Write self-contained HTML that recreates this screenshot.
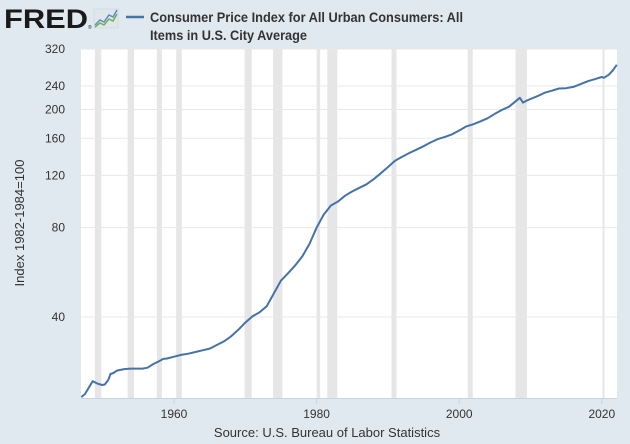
<!DOCTYPE html>
<html><head><meta charset="utf-8"><style>
body{margin:0;background:#e1e9f0;width:630px;height:444px;overflow:hidden;font-family:"Liberation Sans",sans-serif}
</style></head><body>
<svg id="s" width="630" height="444" xmlns="http://www.w3.org/2000/svg" style="position:absolute;left:0;top:0">
<rect width="630" height="444" fill="#e1e9f0"/>
<text x="4" y="28" font-size="27" font-weight="bold" fill="#1a1a1a" textLength="84" lengthAdjust="spacingAndGlyphs">FRED</text>
<text x="88" y="29" font-size="5" fill="#1a1a1a">®</text>
<rect x="94" y="9" width="24" height="19" fill="#dfe6ec" stroke="#c8d0d8" stroke-width="0.5"/>
<polyline points="95,25 100,20 104,22 109,15 113,17 117,10" fill="none" stroke="#5a8fc6" stroke-width="1.5"/>
<polyline points="95,27 100,23 104,25 109,19 113,21 117,14" fill="none" stroke="#72b04a" stroke-width="1.5"/>
<line x1="126" y1="17" x2="144" y2="17" stroke="#4572a7" stroke-width="2.5"/>
<text x="150" y="22" font-size="14" font-weight="bold" fill="#333" textLength="313" lengthAdjust="spacingAndGlyphs">Consumer Price Index for All Urban Consumers: All</text>
<text x="150" y="40" font-size="14" font-weight="bold" fill="#333" textLength="157" lengthAdjust="spacingAndGlyphs">Items in U.S. City Average</text>
<rect x="81" y="49" width="536" height="349" fill="#fff"/>
<g id="rec" fill="#e6e6e6"></g>
<g id="grid" stroke="#e8e8e8" stroke-width="1"></g>
<g id="yl" font-size="12" fill="#333" text-anchor="end"></g>
<line x1="81" y1="398.5" x2="617" y2="398.5" stroke="#c8d4e3"/>
<g id="xl" font-size="12" fill="#333" text-anchor="middle"></g>
<path id="p" fill="none" stroke="#4572a7" stroke-width="2" stroke-linejoin="round"/>
<text transform="translate(24,223) rotate(-90)" font-size="13" fill="#333" text-anchor="middle">Index 1982-1984=100</text>
<text x="327" y="437" font-size="13" fill="#333" text-anchor="middle">Source: U.S. Bureau of Labor Statistics</text>
</svg>
<script>
var X=function(t){return 174+(t-1960)*7.13};
var Y=function(v){return 317-Math.log(v/40)*128.9};
var ns="http://www.w3.org/2000/svg";
function el(g,tag,a,txt){var e=document.createElementNS(ns,tag);for(var k in a)e.setAttribute(k,a[k]);if(txt)e.textContent=txt;document.getElementById(g).appendChild(e);}
[[1948.9,1949.8],[1953.5,1954.4],[1957.6,1958.3],[1960.3,1961.1],[1969.9,1970.9],[1973.9,1975.2],[1980.0,1980.5],[1981.5,1982.9],[1990.5,1991.2],[2001.2,2001.9],[2007.9,2009.5],[2020.1,2020.3]].forEach(function(r){el("rec","rect",{x:X(r[0]),y:49,width:Math.max(X(r[1])-X(r[0]),2),height:349});});
[40,80,120,160,200,240,320].forEach(function(v){var y=Y(v);el("grid","line",{x1:81,x2:617,y1:y,y2:y});el("yl","text",{x:65,y:y+4},String(v));});
[1960,1980,2000,2020].forEach(function(t){var x=X(t);el("xl","line",{x1:x,x2:x,y1:398,y2:404,stroke:"#c8d4e3"});el("xl","text",{x:x,y:418},String(t));});
var d=[[1947.0,21.5],[1947.5,22.0],[1948.0,23.0],[1948.6,24.3],[1949.2,23.9],[1949.9,23.6],[1950.3,23.7],[1950.8,24.6],[1951.1,25.7],[1951.5,25.9],[1952,26.4],[1953,26.7],[1954,26.8],[1955,26.8],[1955.6,26.8],[1956.3,27.0],[1957,27.7],[1957.8,28.3],[1958.5,28.9],[1959,29.0],[1960,29.4],[1961,29.8],[1962,30.1],[1963,30.5],[1964,30.9],[1965,31.3],[1966,32.2],[1967,33.1],[1968,34.4],[1969,36.2],[1970,38.3],[1971,40.2],[1972,41.5],[1973,43.5],[1974,48.0],[1975,53.0],[1976,56.2],[1977,59.7],[1978,64.0],[1979,70.5],[1980,80.0],[1981,88.5],[1982,95.0],[1983,98.0],[1984,102.5],[1985,106.0],[1986,109.0],[1987,112.0],[1988,116.5],[1989,122.0],[1990,128.0],[1991,134.5],[1992,138.7],[1993,142.8],[1994,146.5],[1995,150.5],[1996,155.0],[1997,159.0],[1998,161.8],[1999,165.0],[2000,170.0],[2001,175.5],[2002,178.5],[2003,182.5],[2004,187.0],[2005,193.5],[2006,199.5],[2007,204.5],[2008.5,219.0],[2008.95,211.0],[2009.5,214.5],[2010,217.0],[2011,222.0],[2012,228.0],[2013,231.5],[2014,235.5],[2015,236.0],[2016,238.5],[2017,243.5],[2018,249.0],[2019,253.0],[2020,257.5],[2020.3,255.8],[2021,262.0],[2021.6,272.0],[2022.1,283.0]];
document.getElementById("p").setAttribute("d",d.map(function(p,i){return (i?"L":"M")+X(p[0]).toFixed(1)+","+Y(p[1]).toFixed(1);}).join(""));
</script>
</body></html>
